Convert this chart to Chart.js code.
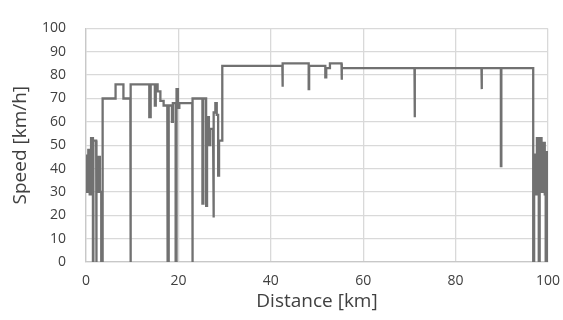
<!DOCTYPE html>
<html lang="en">
<head>
    <meta charset="UTF-8">
    <title>Speed vs Distance</title>
    <script src="https://cdn.jsdelivr.net/npm/chart.js"></script>
    <style>
        html, body { margin: 0; padding: 0; background: #fff; }
        #wrap { width: 563px; height: 320px; }
    </style>
</head>
<body>
    <div id="wrap"><canvas id="speedChart"></canvas></div>

    <script>
        // Hastighetsprofil (km, km/h)
        const distanceKm = [
            0.2, 0.2, 0.5, 0.5, 0.8, 0.8, 1.1, 1.1, 1.5, 1.5, 1.6, 1.6, 2.2, 2.2, 2.3, 2.3,
            2.6, 2.6, 3.0, 3.0, 3.3, 3.3, 3.6, 3.6,
            6.4, 6.4, 8.1, 8.1, 9.6, 9.6, 9.7, 9.7,
            13.7, 13.7, 14.0, 14.0, 14.9, 14.9, 15.1, 15.1, 15.5, 15.5, 16.1, 16.1, 16.8, 16.8,
            17.6, 17.6, 17.7, 17.7, 17.9, 17.9, 18.6, 18.6, 18.8, 18.8, 19.4, 19.4, 19.6, 19.6,
            19.9, 19.9, 20.2, 20.2,
            23.0, 23.0, 23.1, 23.1, 25.2, 25.2, 25.4, 25.4, 26.0, 26.0, 26.2, 26.2, 26.6, 26.6,
            26.9, 26.9, 27.5, 27.5, 27.7, 27.7, 28.0, 28.0, 28.3, 28.3, 28.6, 28.6, 28.8, 28.8,
            29.5, 29.5,
            42.5, 42.5, 42.6, 42.6, 48.2, 48.2, 48.3, 48.3, 51.8, 51.8, 52.0, 52.0, 52.8, 52.8,
            55.3, 55.3, 55.4, 55.4, 71.1, 71.1, 71.2, 71.2, 85.6, 85.6, 85.7, 85.7,
            89.8, 89.8, 89.9, 89.9, 96.8, 96.8,
            97.0, 97.0, 97.3, 97.3, 97.6, 97.6, 98.0, 98.0, 98.2, 98.2, 98.6, 98.6, 98.9, 98.9,
            99.3, 99.3, 99.5, 99.5, 99.7, 99.7, 100.0, 100.0
        ];
        const speedKmh = [
            46, 30, 30, 48, 48, 29, 29, 53, 53, 0, 0, 52, 52, 0, 0, 30,
            30, 45, 45, 30, 30, 0, 0, 70,
            70, 76, 76, 70, 70, 0, 0, 76,
            76, 62, 62, 76, 76, 67, 67, 76, 76, 73, 73, 69, 69, 67,
            67, 58, 58, 0, 0, 67, 67, 60, 60, 68, 68, 0, 0, 74,
            74, 66, 66, 68,
            68, 0, 0, 70, 70, 25, 25, 70, 70, 24, 24, 62, 62, 50,
            50, 57, 57, 19, 19, 64, 64, 68, 68, 63, 63, 37, 37, 52,
            52, 84,
            84, 75, 75, 85, 85, 74, 74, 84, 84, 79, 79, 83, 83, 85,
            85, 78, 78, 83, 83, 62, 62, 83, 83, 74, 74, 83,
            83, 41, 41, 83, 83, 0,
            0, 46, 46, 29, 29, 53, 53, 0, 0, 53, 53, 30, 30, 51,
            51, 29, 29, 0, 0, 47, 47, 0
        ];
        const xTicks = [0, 20, 40, 60, 80, 100];
        const yTicks = [0, 10, 20, 30, 40, 50, 60, 70, 80, 90, 100];

        const points = distanceKm.map((d, i) => ({ x: d, y: speedKmh[i] }));

        const ctx = document.getElementById('speedChart').getContext('2d');
        new Chart(ctx, {
            type: 'line',
            data: {
                datasets: [{
                    label: 'Speed',
                    data: points,
                    borderColor: '#717171',
                    borderWidth: 2.3,
                    pointRadius: 0,
                    tension: 0,
                    fill: false
                }]
            },
            options: {
                responsive: true,
                maintainAspectRatio: false,
                animation: false,
                layout: { padding: { left: 9, right: 15, top: 19, bottom: 0 } },
                plugins: {
                    legend: { display: false },
                    tooltip: { enabled: false }
                },
                scales: {
                    x: {
                        type: 'linear',
                        min: 0,
                        max: 100,
                        afterBuildTicks: s => { s.ticks = xTicks.map(v => ({ value: v })); },
                        afterFit: s => { s.height = 58; s.paddingRight = 0; s.paddingLeft = 0; },
                        grid: { color: '#d9d9d9', lineWidth: 1.3, drawTicks: false },
                        border: { color: '#c8c8c8', width: 1.3 },
                        ticks: {
                            padding: 11,
                            color: '#404040',
                            font: { family: 'Open Sans', size: 14 }
                        },
                        title: {
                            display: true,
                            text: 'Distance [km]',
                            color: '#404040',
                            padding: { top: 0, bottom: 7 },
                            font: { family: 'Open Sans', size: 19 }
                        }
                    },
                    y: {
                        min: 0,
                        max: 100,
                        afterBuildTicks: s => { s.ticks = yTicks.map(v => ({ value: v })); },
                        afterFit: s => { s.width = 77; },
                        grid: { color: '#d9d9d9', lineWidth: 1.3, drawTicks: false },
                        border: { color: '#c8c8c8', width: 1.3 },
                        ticks: {
                            padding: 20,
                            color: '#404040',
                            font: { family: 'Open Sans', size: 14 }
                        },
                        title: {
                            display: true,
                            text: 'Speed [km/h]',
                            color: '#404040',
                            padding: { top: 0, bottom: 4 },
                            font: { family: 'Open Sans', size: 19 }
                        }
                    }
                }
            }
        });
    </script>
</body>
</html>
